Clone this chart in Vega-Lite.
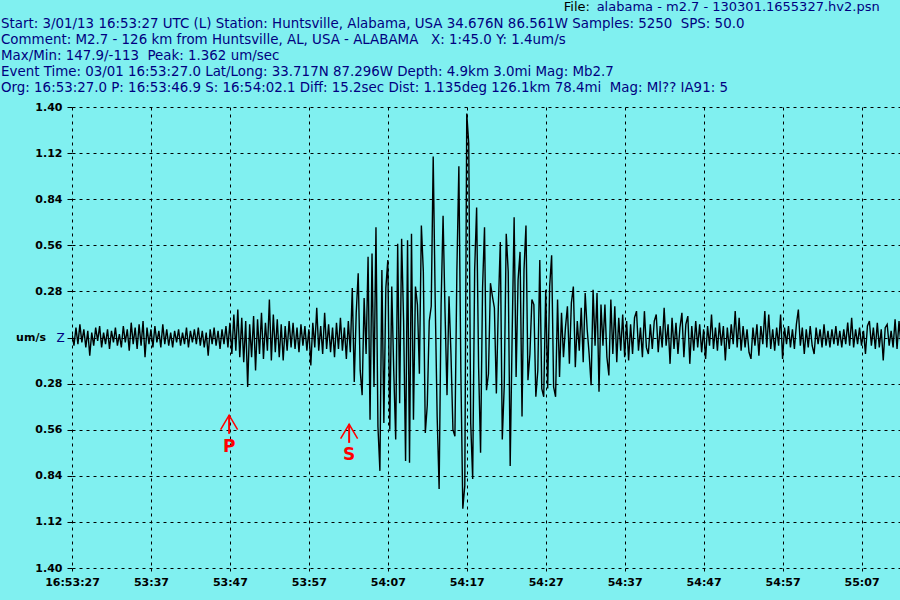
{
  "$schema": "https://vega.github.io/schema/vega-lite/v6.json",
  "width": 829,
  "height": 461,
  "autosize": {"type": "none"},
  "padding": {"left": 72, "top": 107, "right": 0, "bottom": 32},
  "background": "#80f0f0",
  "config": {"view": {"stroke": null}},
  "datasets": {
    "wave": [
      {"t":0,"v":0.02},{"t":0.25,"v":-0.05},{"t":0.5,"v":0.06},{"t":0.75,"v":-0.04},
      {"t":1,"v":0.08},{"t":1.25,"v":-0.03},{"t":1.5,"v":0.05},{"t":1.75,"v":-0.06},
      {"t":2,"v":0.04},{"t":2.25,"v":-0.11},{"t":2.5,"v":0.03},{"t":2.75,"v":-0.05},
      {"t":3,"v":0.06},{"t":3.25,"v":-0.02},{"t":3.5,"v":0.07},{"t":3.75,"v":-0.06},
      {"t":4,"v":0.03},{"t":4.25,"v":-0.04},{"t":4.5,"v":0.05},{"t":4.75,"v":-0.07},
      {"t":5,"v":0.04},{"t":5.25,"v":-0.03},{"t":5.5,"v":0.06},{"t":5.75,"v":-0.05},
      {"t":6,"v":0.02},{"t":6.25,"v":-0.06},{"t":6.5,"v":0.07},{"t":6.75,"v":-0.03},
      {"t":7,"v":0.05},{"t":7.25,"v":-0.08},{"t":7.5,"v":0.09},{"t":7.75,"v":-0.04},
      {"t":8,"v":0.06},{"t":8.25,"v":-0.07},{"t":8.5,"v":0.08},{"t":8.75,"v":-0.05},
      {"t":9,"v":0.10},{"t":9.25,"v":-0.12},{"t":9.5,"v":0.06},{"t":9.75,"v":-0.04},
      {"t":10,"v":0.05},{"t":10.25,"v":-0.06},{"t":10.5,"v":0.07},{"t":10.75,"v":-0.03},
      {"t":11,"v":0.04},{"t":11.25,"v":-0.06},{"t":11.5,"v":0.08},{"t":11.75,"v":-0.04},
      {"t":12,"v":0.05},{"t":12.25,"v":-0.05},{"t":12.5,"v":0.03},{"t":12.75,"v":-0.06},
      {"t":13,"v":0.04},{"t":13.25,"v":-0.03},{"t":13.5,"v":0.05},{"t":13.75,"v":-0.05},
      {"t":14,"v":0.03},{"t":14.25,"v":-0.04},{"t":14.5,"v":0.06},{"t":14.75,"v":-0.06},
      {"t":15,"v":0.04},{"t":15.25,"v":-0.03},{"t":15.5,"v":0.05},{"t":15.75,"v":-0.04},
      {"t":16,"v":0.06},{"t":16.25,"v":-0.05},{"t":16.5,"v":0.04},{"t":16.75,"v":-0.06},
      {"t":17,"v":0.03},{"t":17.25,"v":-0.11},{"t":17.5,"v":0.05},{"t":17.75,"v":-0.04},
      {"t":18,"v":0.06},{"t":18.25,"v":-0.05},{"t":18.5,"v":0.04},{"t":18.75,"v":-0.07},
      {"t":19,"v":0.05},{"t":19.25,"v":-0.04},{"t":19.5,"v":0.07},{"t":19.75,"v":-0.06},
      {"t":20,"v":0.09},{"t":20.25,"v":-0.10},{"t":20.5,"v":0.14},{"t":20.75,"v":-0.08},
      {"t":21,"v":0.17},{"t":21.25,"v":-0.12},{"t":21.5,"v":0.12},{"t":21.75,"v":-0.15},
      {"t":22,"v":0.10},{"t":22.25,"v":-0.30},{"t":22.5,"v":0.08},{"t":22.75,"v":-0.12},
      {"t":23,"v":0.13},{"t":23.25,"v":-0.20},{"t":23.5,"v":0.11},{"t":23.75,"v":-0.10},
      {"t":24,"v":0.15},{"t":24.25,"v":-0.13},{"t":24.5,"v":0.09},{"t":24.75,"v":-0.08},
      {"t":25,"v":0.23},{"t":25.25,"v":-0.14},{"t":25.5,"v":0.14},{"t":25.75,"v":-0.09},
      {"t":26,"v":0.11},{"t":26.25,"v":-0.12},{"t":26.5,"v":0.08},{"t":26.75,"v":-0.14},
      {"t":27,"v":0.07},{"t":27.25,"v":-0.08},{"t":27.5,"v":0.10},{"t":27.75,"v":-0.06},
      {"t":28,"v":0.09},{"t":28.25,"v":-0.07},{"t":28.5,"v":0.06},{"t":28.75,"v":-0.09},
      {"t":29,"v":0.08},{"t":29.25,"v":-0.05},{"t":29.5,"v":0.07},{"t":29.75,"v":-0.08},
      {"t":30,"v":0.05},{"t":30.25,"v":-0.17},{"t":30.5,"v":0.09},{"t":30.75,"v":-0.06},
      {"t":31,"v":0.18},{"t":31.25,"v":-0.08},{"t":31.5,"v":0.07},{"t":31.75,"v":-0.10},
      {"t":32,"v":0.15},{"t":32.25,"v":-0.07},{"t":32.5,"v":0.08},{"t":32.75,"v":-0.09},
      {"t":33,"v":0.06},{"t":33.25,"v":-0.12},{"t":33.5,"v":0.09},{"t":33.75,"v":-0.07},
      {"t":34,"v":0.12},{"t":34.25,"v":-0.08},{"t":34.5,"v":0.06},{"t":34.75,"v":-0.13},
      {"t":35,"v":0.10},{"t":35.25,"v":-0.09},{"t":35.5,"v":0.30},{"t":35.75,"v":-0.27},
      {"t":36,"v":0.15},{"t":36.25,"v":0.39},{"t":36.5,"v":-0.20},{"t":36.75,"v":-0.35},
      {"t":37,"v":0.24},{"t":37.25,"v":-0.10},{"t":37.5,"v":0.49},{"t":37.75,"v":-0.50},
      {"t":38,"v":0.51},{"t":38.25,"v":-0.30},{"t":38.5,"v":0.67},{"t":38.75,"v":-0.54},
      {"t":39,"v":-0.81},{"t":39.25,"v":0.41},{"t":39.5,"v":-0.52},{"t":39.75,"v":0.30},
      {"t":40,"v":0.47},{"t":40.25,"v":-0.56},{"t":40.5,"v":0.31},{"t":40.75,"v":-0.20},
      {"t":41,"v":-0.62},{"t":41.25,"v":0.57},{"t":41.5,"v":-0.40},{"t":41.75,"v":0.60},
      {"t":42,"v":0.10},{"t":42.25,"v":-0.75},{"t":42.5,"v":0.59},{"t":42.75,"v":-0.76},
      {"t":43,"v":0.63},{"t":43.25,"v":-0.50},{"t":43.5,"v":0.31},{"t":43.75,"v":0.20},
      {"t":44,"v":-0.22},{"t":44.25,"v":0.68},{"t":44.5,"v":0.40},{"t":44.75,"v":-0.58},
      {"t":45,"v":-0.41},{"t":45.25,"v":0.10},{"t":45.5,"v":0.19},{"t":45.75,"v":1.10},
      {"t":46,"v":0.23},{"t":46.25,"v":-0.48},{"t":46.5,"v":-0.92},{"t":46.75,"v":0.20},
      {"t":47,"v":0.74},{"t":47.25,"v":0.15},{"t":47.5,"v":-0.35},{"t":47.75,"v":0.25},
      {"t":48,"v":-0.10},{"t":48.25,"v":-0.56},{"t":48.5,"v":-0.60},{"t":48.75,"v":0.41},
      {"t":49,"v":1.04},{"t":49.25,"v":-0.20},{"t":49.5,"v":-1.04},{"t":49.75,"v":-0.90},
      {"t":50,"v":1.36},{"t":50.25,"v":1.18},{"t":50.5,"v":-0.52},{"t":50.75,"v":-0.86},
      {"t":51,"v":0.41},{"t":51.25,"v":0.79},{"t":51.5,"v":-0.18},{"t":51.75,"v":-0.70},
      {"t":52,"v":0.30},{"t":52.25,"v":0.67},{"t":52.5,"v":-0.32},{"t":52.75,"v":-0.22},
      {"t":53,"v":0.33},{"t":53.25,"v":0.25},{"t":53.5,"v":0.18},{"t":53.75,"v":-0.34},
      {"t":54,"v":0.19},{"t":54.25,"v":0.58},{"t":54.5,"v":-0.62},{"t":54.75,"v":-0.29},
      {"t":55,"v":0.63},{"t":55.25,"v":0.40},{"t":55.5,"v":-0.78},{"t":55.75,"v":0.02},
      {"t":56,"v":0.73},{"t":56.25,"v":-0.24},{"t":56.5,"v":0.35},{"t":56.75,"v":0.52},
      {"t":57,"v":-0.48},{"t":57.25,"v":0.41},{"t":57.5,"v":0.68},{"t":57.75,"v":-0.26},
      {"t":58,"v":-0.10},{"t":58.25,"v":0.23},{"t":58.5,"v":0.20},{"t":58.75,"v":-0.36},
      {"t":59,"v":-0.20},{"t":59.25,"v":0.47},{"t":59.5,"v":-0.31},{"t":59.75,"v":-0.36},
      {"t":60,"v":0.29},{"t":60.25,"v":-0.31},{"t":60.5,"v":0.31},{"t":60.75,"v":0.50},
      {"t":61,"v":-0.30},{"t":61.25,"v":-0.36},{"t":61.5,"v":0.23},{"t":61.75,"v":-0.24},
      {"t":62,"v":0.15},{"t":62.25,"v":-0.12},{"t":62.5,"v":0.06},{"t":62.75,"v":0.19},
      {"t":63,"v":-0.16},{"t":63.25,"v":0.21},{"t":63.5,"v":0.31},{"t":63.75,"v":-0.18},
      {"t":64,"v":0.10},{"t":64.25,"v":-0.08},{"t":64.5,"v":0.18},{"t":64.75,"v":-0.15},
      {"t":65,"v":0.27},{"t":65.25,"v":0.05},{"t":65.5,"v":-0.10},{"t":65.75,"v":-0.29},
      {"t":66,"v":0.29},{"t":66.25,"v":-0.05},{"t":66.5,"v":0.27},{"t":66.75,"v":-0.33},
      {"t":67,"v":0.20},{"t":67.25,"v":-0.05},{"t":67.5,"v":0.20},{"t":67.75,"v":-0.12},
      {"t":68,"v":-0.23},{"t":68.25,"v":0.23},{"t":68.5,"v":-0.10},{"t":68.75,"v":0.19},
      {"t":69,"v":-0.15},{"t":69.25,"v":0.12},{"t":69.5,"v":-0.08},{"t":69.75,"v":0.14},
      {"t":70,"v":-0.12},{"t":70.25,"v":0.10},{"t":70.5,"v":-0.14},{"t":70.75,"v":0.08},
      {"t":71,"v":-0.10},{"t":71.25,"v":0.12},{"t":71.5,"v":0.16},{"t":71.75,"v":-0.08},
      {"t":72,"v":0.06},{"t":72.25,"v":-0.12},{"t":72.5,"v":0.16},{"t":72.75,"v":-0.06},
      {"t":73,"v":-0.10},{"t":73.25,"v":0.08},{"t":73.5,"v":-0.07},{"t":73.75,"v":0.10},
      {"t":74,"v":0.14},{"t":74.25,"v":-0.09},{"t":74.5,"v":0.07},{"t":74.75,"v":-0.06},
      {"t":75,"v":0.18},{"t":75.25,"v":-0.05},{"t":75.5,"v":0.08},{"t":75.75,"v":-0.16},
      {"t":76,"v":0.12},{"t":76.25,"v":-0.07},{"t":76.5,"v":0.09},{"t":76.75,"v":-0.10},
      {"t":77,"v":0.06},{"t":77.25,"v":0.15},{"t":77.5,"v":-0.12},{"t":77.75,"v":0.08},
      {"t":78,"v":0.13},{"t":78.25,"v":-0.16},{"t":78.5,"v":0.07},{"t":78.75,"v":-0.08},
      {"t":79,"v":0.10},{"t":79.25,"v":-0.06},{"t":79.5,"v":0.08},{"t":79.75,"v":-0.09},
      {"t":80,"v":0.05},{"t":80.25,"v":-0.13},{"t":80.5,"v":0.07},{"t":80.75,"v":-0.05},
      {"t":81,"v":0.14},{"t":81.25,"v":-0.07},{"t":81.5,"v":0.06},{"t":81.75,"v":-0.08},
      {"t":82,"v":0.09},{"t":82.25,"v":-0.05},{"t":82.5,"v":0.07},{"t":82.75,"v":-0.14},
      {"t":83,"v":0.06},{"t":83.25,"v":-0.07},{"t":83.5,"v":0.08},{"t":83.75,"v":-0.04},
      {"t":84,"v":0.16},{"t":84.25,"v":-0.06},{"t":84.5,"v":0.12},{"t":84.75,"v":-0.08},
      {"t":85,"v":0.07},{"t":85.25,"v":-0.06},{"t":85.5,"v":0.05},{"t":85.75,"v":-0.09},
      {"t":86,"v":-0.13},{"t":86.25,"v":0.06},{"t":86.5,"v":-0.05},{"t":86.75,"v":0.08},
      {"t":87,"v":-0.11},{"t":87.25,"v":0.07},{"t":87.5,"v":-0.04},{"t":87.75,"v":0.16},
      {"t":88,"v":-0.06},{"t":88.25,"v":0.14},{"t":88.5,"v":-0.07},{"t":88.75,"v":0.05},
      {"t":89,"v":-0.08},{"t":89.25,"v":0.06},{"t":89.5,"v":-0.05},{"t":89.75,"v":0.14},
      {"t":90,"v":-0.13},{"t":90.25,"v":0.06},{"t":90.5,"v":-0.04},{"t":90.75,"v":0.07},
      {"t":91,"v":-0.06},{"t":91.25,"v":0.05},{"t":91.5,"v":-0.07},{"t":91.75,"v":0.08},
      {"t":92,"v":0.17},{"t":92.25,"v":-0.05},{"t":92.5,"v":0.06},{"t":92.75,"v":-0.10},
      {"t":93,"v":0.05},{"t":93.25,"v":-0.06},{"t":93.5,"v":0.07},{"t":93.75,"v":-0.05},
      {"t":94,"v":-0.10},{"t":94.25,"v":0.06},{"t":94.5,"v":-0.04},{"t":94.75,"v":0.05},
      {"t":95,"v":-0.06},{"t":95.25,"v":0.08},{"t":95.5,"v":-0.05},{"t":95.75,"v":0.04},
      {"t":96,"v":-0.06},{"t":96.25,"v":0.05},{"t":96.5,"v":-0.04},{"t":96.75,"v":0.07},
      {"t":97,"v":-0.05},{"t":97.25,"v":0.04},{"t":97.5,"v":-0.06},{"t":97.75,"v":0.05},
      {"t":98,"v":-0.04},{"t":98.25,"v":0.09},{"t":98.5,"v":-0.05},{"t":98.75,"v":0.12},
      {"t":99,"v":-0.06},{"t":99.25,"v":0.05},{"t":99.5,"v":-0.04},{"t":99.75,"v":0.06},
      {"t":100,"v":-0.05},{"t":100.25,"v":0.04},{"t":100.5,"v":-0.10},{"t":100.75,"v":0.07},
      {"t":101,"v":0.10},{"t":101.25,"v":-0.05},{"t":101.5,"v":0.06},{"t":101.75,"v":-0.07},
      {"t":102,"v":0.09},{"t":102.25,"v":-0.06},{"t":102.5,"v":0.05},{"t":102.75,"v":-0.14},
      {"t":103,"v":0.06},{"t":103.25,"v":0.08},{"t":103.5,"v":-0.05},{"t":103.75,"v":0.04},
      {"t":104,"v":-0.06},{"t":104.25,"v":0.11},{"t":104.5,"v":-0.07},{"t":104.75,"v":0.10},
      {"t":105,"v":-0.05}
    ],
    "picks": [
      {"phase": "P", "t": 19.9},
      {"phase": "S", "t": 35.1}
    ],
    "notes": [
      {"note": "one"}
    ]
  },
  "layer": [
    {
      "data": {"name": "wave"},
      "mark": {"type": "line", "color": "#000000", "strokeWidth": 1.4, "clip": true},
      "encoding": {
        "x": {
          "field": "t", "type": "quantitative",
          "scale": {"domain": [0, 105], "nice": false, "zero": false},
          "axis": {
            "title": null,
            "values": [0, 10, 20, 30, 40, 50, 60, 70, 80, 90, 100],
            "labelExpr": "datum.value == 0 ? '16:53:27' : floor((3207 + datum.value) / 60) + ':' + pad(((3207 + datum.value) % 60) + '', 2, '0', 'left')",
            "domain": false,
            "grid": true,
            "gridColor": "#000000",
            "gridDash": [3, 4],
            "gridOpacity": 1,
            "ticks": true,
            "tickColor": "#000000",
            "tickSize": 5,
            "tickDash": [3, 2],
            "labelFont": "DejaVu Sans",
            "labelFontSize": 11,
            "labelFontWeight": "bold",
            "labelColor": "#000000",
            "labelPadding": 3,
            "labelFlush": false,
            "labelOverlap": false
          }
        },
        "y": {
          "field": "v", "type": "quantitative",
          "scale": {"domain": [-1.4, 1.4], "nice": false, "zero": false},
          "axis": {
            "title": null,
            "values": [-1.4, -1.12, -0.84, -0.56, -0.28, 0, 0.28, 0.56, 0.84, 1.12, 1.4],
            "labelExpr": "datum.value == 0 ? '' : format(abs(datum.value), '.2f')",
            "domain": false,
            "grid": true,
            "gridColor": "#000000",
            "gridDash": [3, 4],
            "gridOpacity": 1,
            "ticks": true,
            "tickColor": "#000000",
            "tickSize": 5,
            "labelFont": "DejaVu Sans",
            "labelFontSize": 11,
            "labelFontWeight": "bold",
            "labelColor": "#000000",
            "labelPadding": 5,
            "labelFlush": false,
            "labelOverlap": false
          }
        }
      }
    },
    {
      "data": {"name": "picks"},
      "transform": [{"filter": "datum.phase == 'P'"}],
      "mark": {"type": "rule", "color": "#ff0000", "strokeWidth": 2},
      "encoding": {
        "x": {"field": "t", "type": "quantitative"},
        "y": {"datum": -0.472},
        "y2": {"datum": -0.585}
      }
    },
    {
      "data": {"name": "picks"},
      "transform": [{"filter": "datum.phase == 'S'"}],
      "mark": {"type": "rule", "color": "#ff0000", "strokeWidth": 2},
      "encoding": {
        "x": {"field": "t", "type": "quantitative"},
        "y": {"datum": -0.527},
        "y2": {"datum": -0.64}
      }
    },
    {
      "data": {"name": "picks"},
      "transform": [{"filter": "datum.phase == 'P'"}],
      "mark": {"type": "point", "shape": "M-1,1.7L0,0L1,1.7", "filled": false, "stroke": "#ff0000", "strokeWidth": 1.5, "size": 289, "opacity": 1},
      "encoding": {
        "x": {"field": "t", "type": "quantitative"},
        "y": {"datum": -0.472}
      }
    },
    {
      "data": {"name": "picks"},
      "transform": [{"filter": "datum.phase == 'S'"}],
      "mark": {"type": "point", "shape": "M-1,1.7L0,0L1,1.7", "filled": false, "stroke": "#ff0000", "strokeWidth": 1.5, "size": 289, "opacity": 1},
      "encoding": {
        "x": {"field": "t", "type": "quantitative"},
        "y": {"datum": -0.527}
      }
    },
    {
      "data": {"name": "picks"},
      "transform": [{"filter": "datum.phase == 'P'"}],
      "mark": {"type": "text", "color": "#ff0000", "font": "DejaVu Sans", "fontSize": 17, "fontWeight": "bold", "align": "center", "baseline": "middle"},
      "encoding": {
        "x": {"field": "t", "type": "quantitative"},
        "y": {"datum": -0.663},
        "text": {"field": "phase"}
      }
    },
    {
      "data": {"name": "picks"},
      "transform": [{"filter": "datum.phase == 'S'"}],
      "mark": {"type": "text", "color": "#ff0000", "font": "DejaVu Sans", "fontSize": 17, "fontWeight": "bold", "align": "center", "baseline": "middle"},
      "encoding": {
        "x": {"field": "t", "type": "quantitative"},
        "y": {"datum": -0.715},
        "text": {"field": "phase"}
      }
    },
    {
      "data": {"name": "notes"},
      "mark": {"type": "text", "text": "um/s", "color": "#000000", "font": "DejaVu Sans", "fontSize": 11, "fontWeight": "bold", "align": "right", "baseline": "middle"},
      "encoding": {
        "x": {"datum": -3.3},
        "y": {"datum": 0}
      }
    },
    {
      "data": {"name": "notes"},
      "mark": {"type": "text", "text": "Z", "color": "#000080", "font": "DejaVu Sans", "fontSize": 12, "align": "center", "baseline": "middle"},
      "encoding": {
        "x": {"datum": -1.45},
        "y": {"datum": 0}
      }
    },
    {
      "data": {"name": "notes"},
      "mark": {"type": "text", "text": "File:", "color": "#000000", "font": "DejaVu Sans", "fontSize": 13, "align": "right", "baseline": "alphabetic"},
      "encoding": {
        "x": {"datum": 65.6},
        "y": {"datum": 1.984}
      }
    },
    {
      "data": {"name": "notes"},
      "mark": {"type": "text", "text": "alabama - m2.7 - 130301.1655327.hv2.psn", "color": "#000080", "font": "DejaVu Sans", "fontSize": 13, "align": "left", "baseline": "alphabetic"},
      "encoding": {
        "x": {"datum": 66.45},
        "y": {"datum": 1.984}
      }
    },
    {
      "data": {"name": "notes"},
      "mark": {
        "type": "text",
        "text": [
          "Start: 3/01/13 16:53:27 UTC (L) Station: Huntsville, Alabama, USA 34.676N 86.561W Samples: 5250\u00a0 SPS: 50.0",
          "Comment: M2.7 - 126 km from Huntsville, AL, USA - ALABAMA\u00a0\u00a0 X: 1:45.0 Y: 1.4um/s",
          "Max/Min: 147.9/-113\u00a0 Peak: 1.362 um/sec",
          "Event Time: 03/01 16:53:27.0 Lat/Long: 33.717N 87.296W Depth: 4.9km 3.0mi Mag: Mb2.7",
          "Org: 16:53:27.0 P: 16:53:46.9 S: 16:54:02.1 Diff: 15.2sec Dist: 1.135deg 126.1km 78.4mi\u00a0 Mag: Ml?? IA91: 5"
        ],
        "color": "#000080",
        "font": "DejaVu Sans",
        "fontSize": 13.4,
        "lineHeight": 16,
        "align": "left",
        "baseline": "alphabetic"
      },
      "encoding": {
        "x": {"datum": -8.99},
        "y": {"datum": 1.881}
      }
    }
  ]
}
